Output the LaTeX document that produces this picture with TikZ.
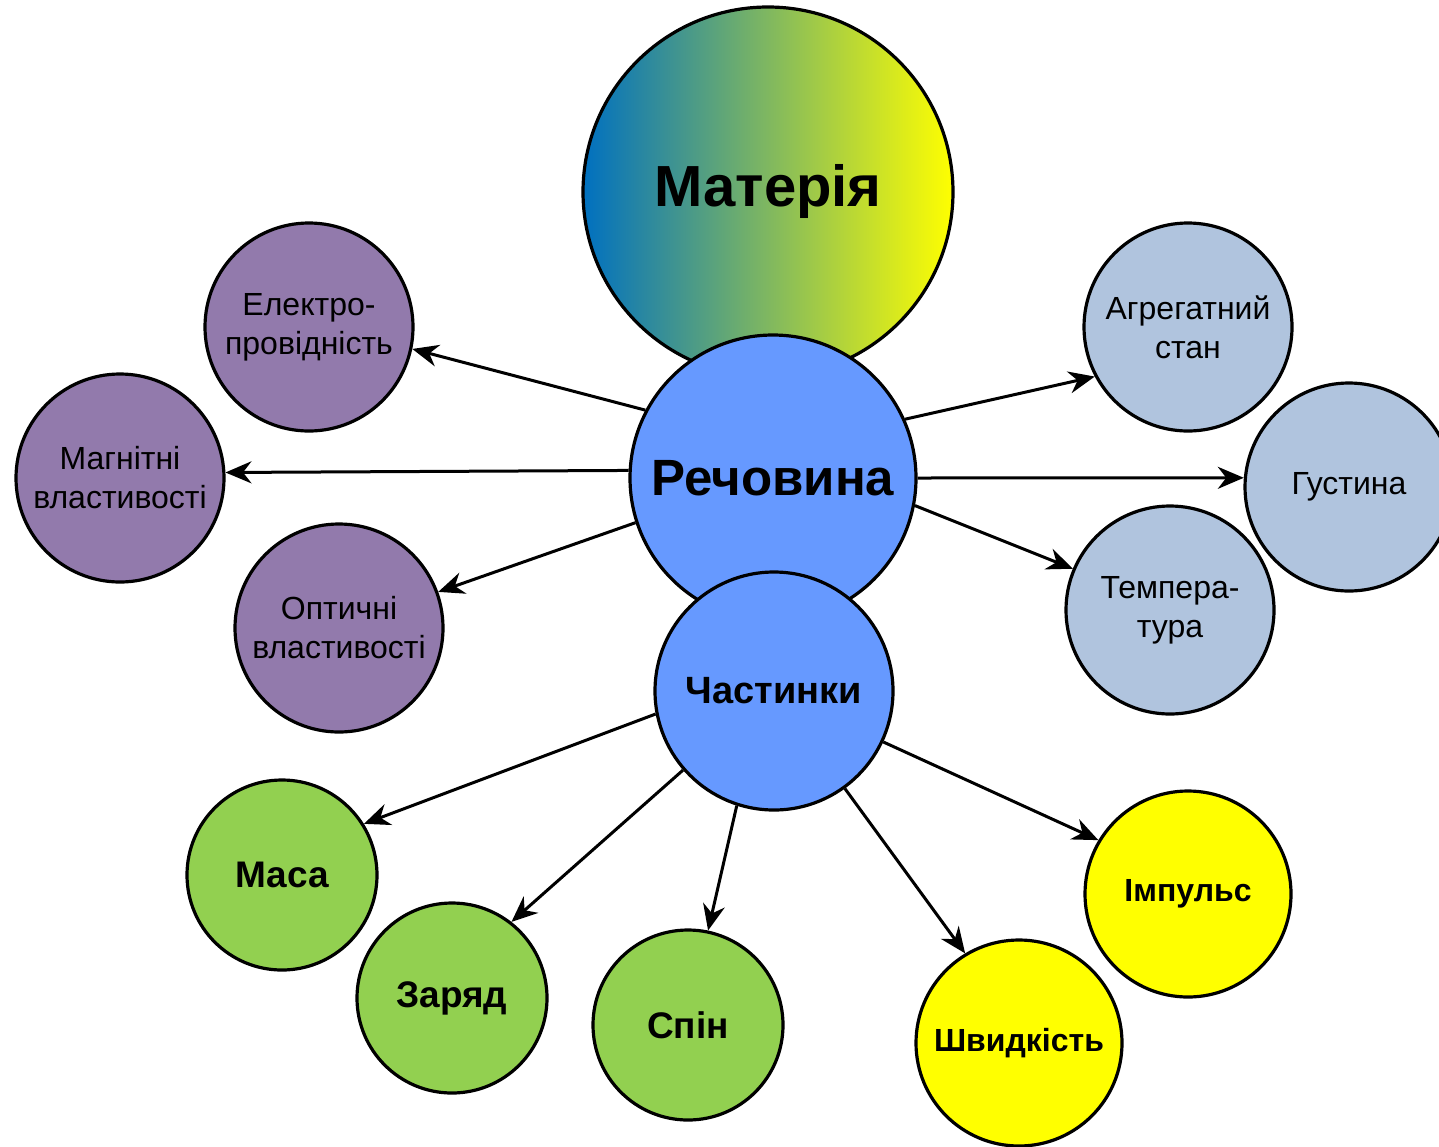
\documentclass[tikz,border=0pt]{standalone}
\usepackage{fontspec}
\setmainfont{Liberation Sans}
\usetikzlibrary{arrows.meta}
\definecolor{matL}{RGB}{0,112,192}
\definecolor{matR}{RGB}{255,255,0}
\definecolor{blueC}{RGB}{102,153,255}
\definecolor{purpC}{RGB}{146,122,172}
\definecolor{steelC}{RGB}{176,196,222}
\definecolor{greenC}{RGB}{146,208,80}
\definecolor{yellC}{RGB}{255,255,0}
\begin{document}
\begin{tikzpicture}[x=1pt,y=-1pt,
  bub/.style={circle,draw=black,line width=3.2pt,inner sep=0pt,align=center,text=black},
  lbl/.style={font=\fontsize{32}{39}\selectfont},
  arr/.style={line width=3pt,-{Stealth[length=26pt,width=22pt]}}]
\useasboundingbox[fill=white] (0,0) rectangle (1439,1146);

% central nodes
\node[bub,minimum size=370pt,left color=matL,right color=matR,
      font=\bfseries\fontsize{58}{60}\selectfont] (mat) at (768,192) {Матерія};
\node[bub,minimum size=286pt,fill=blueC,
      font=\bfseries\fontsize{51}{60}\selectfont] (rech) at (773,478) {Речовина};
\node[bub,minimum size=238pt,fill=blueC,
      font=\bfseries\fontsize{38}{44}\selectfont] (chast) at (774,691) {Частинки};

% purple
\node[bub,lbl,minimum size=208pt,fill=purpC] (elek) at (309,327) {Електро-\\провідність};
\node[bub,lbl,minimum size=208pt,fill=purpC] (magn) at (120,478) {Магнітні\\властивості};
\node[bub,lbl,minimum size=208pt,fill=purpC] (opt) at (339,628) {Оптичні\\властивості};

% steel blue
\node[bub,lbl,minimum size=208pt,fill=steelC] (agr) at (1188,327) {Агрегатний\\стан};
\node[bub,lbl,minimum size=208pt,fill=steelC] (gus) at (1349,487) {Густина};
\node[bub,lbl,minimum size=208pt,fill=steelC] (temp) at (1170,610) {Темпера-\\тура};

% green
\node[bub,minimum size=190pt,fill=greenC,font=\bfseries\fontsize{37}{40}\selectfont] (masa) at (282,875) {Маса};
\node[bub,minimum size=190pt,fill=greenC,font=\bfseries\fontsize{37}{40}\selectfont] (zar) at (452,998) {Заряд};
\node[bub,minimum size=190pt,fill=greenC,font=\bfseries\fontsize{37}{40}\selectfont] (spin) at (688,1025) {Спін};

% yellow
\node[bub,minimum size=206pt,fill=yellC,font=\bfseries\fontsize{32}{40}\selectfont] (shv) at (1019,1043) {Швидкість};
\node[bub,minimum size=206pt,fill=yellC,font=\bfseries\fontsize{32}{40}\selectfont] (imp) at (1188,894) {Імпульс};

% arrows
\draw[arr] (rech.152) -- (elek.-12.5);
\draw[arr] (rech.177.6) -- (magn.3.3);
\draw[arr] (rech.198.4) -- (opt.20.4);
\draw[arr] (rech.24.8) -- (agr.208.7);
\draw[arr] (rech.0) -- (gus.175);
\draw[arr] (rech.-11.7) -- (temp.157.8);
\draw[arr] (chast.191.4) -- (masa.32.6);
\draw[arr] (chast.221.6) -- (zar.52.4);
\draw[arr] (chast.252.5) -- (spin.78);
\draw[arr] (chast.-54.4) -- (shv.121.4);
\draw[arr] (chast.-25.7) -- (imp.149.5);
\end{tikzpicture}
\end{document}
